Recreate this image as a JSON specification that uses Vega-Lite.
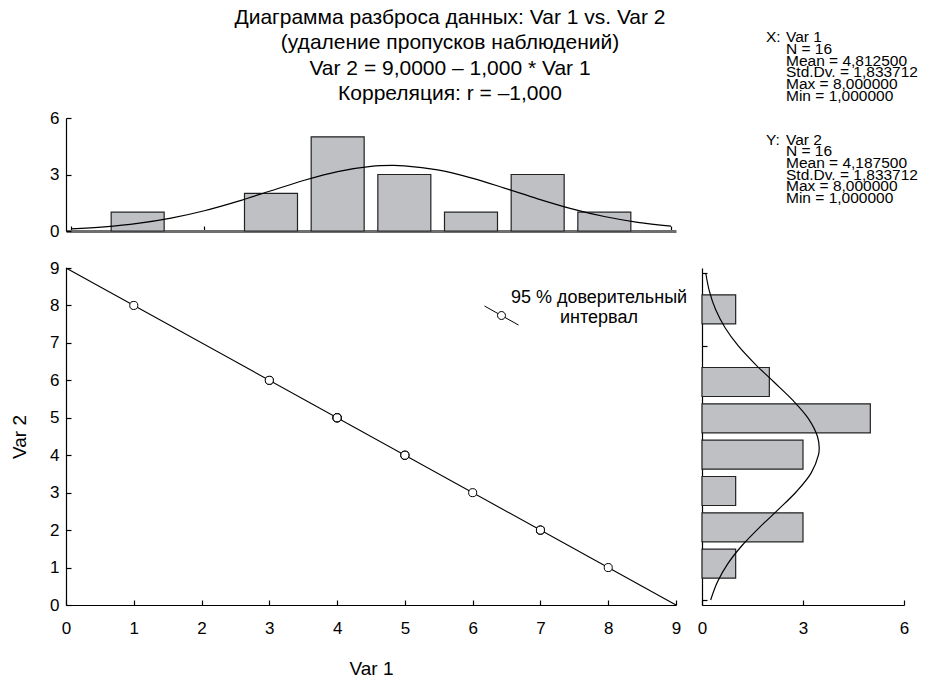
{
  "$schema": "https://vega.github.io/schema/vega-lite/v6.json",
  "padding": {"left": 10, "top": 6, "right": 0, "bottom": 0},
  "background": "white",
  "config": {
    "view": {"stroke": null},
    "font": "Liberation Sans",
    "axis": {
      "domainColor": "black", "tickColor": "black", "labelColor": "black", "titleColor": "black",
      "grid": false, "labelFont": "Liberation Sans", "labelFontSize": 17,
      "titleFont": "Liberation Sans", "titleFontSize": 19, "titleFontWeight": "normal",
      "tickSize": -5, "zindex": 1, "domainWidth": 1.2, "tickWidth": 1.2,
      "labelFlush": false, "labelOverlap": false, "format": "d"
    },
    "axisX": {"labelPadding": 20, "titlePadding": 23},
    "axisY": {"labelPadding": 12, "titlePadding": 20}
  },
  "datasets": {
    "obs": [
      {"v1": 1, "v2": 8},
      {"v1": 3, "v2": 6}, {"v1": 3, "v2": 6},
      {"v1": 4, "v2": 5}, {"v1": 4, "v2": 5}, {"v1": 4, "v2": 5}, {"v1": 4, "v2": 5}, {"v1": 4, "v2": 5},
      {"v1": 5, "v2": 4}, {"v1": 5, "v2": 4}, {"v1": 5, "v2": 4},
      {"v1": 6, "v2": 3},
      {"v1": 7, "v2": 2}, {"v1": 7, "v2": 2}, {"v1": 7, "v2": 2},
      {"v1": 8, "v2": 1}
    ],
    "fit": [
      {"v1": 0, "v2": 9, "s": "95 % доверительный интервал"},
      {"v1": 9, "v2": 0, "s": "95 % доверительный интервал"}
    ],
    "curveX": [
      {"v1": 0, "n": 0.111}, {"v1": 0.5, "n": 0.219}, {"v1": 1, "n": 0.401}, {"v1": 1.5, "n": 0.681},
      {"v1": 2, "n": 1.073}, {"v1": 2.5, "n": 1.571}, {"v1": 3, "n": 2.136}, {"v1": 3.5, "n": 2.694},
      {"v1": 4, "n": 3.155}, {"v1": 4.5, "n": 3.430}, {"v1": 4.8125, "n": 3.481}, {"v1": 5, "n": 3.462},
      {"v1": 5.5, "n": 3.244}, {"v1": 6, "n": 2.822}, {"v1": 6.5, "n": 2.279}, {"v1": 7, "n": 1.709},
      {"v1": 7.5, "n": 1.189}, {"v1": 8, "n": 0.768}, {"v1": 8.5, "n": 0.461}, {"v1": 9, "n": 0.257}
    ],
    "curveY": [
      {"v2": 0, "n": 0.257}, {"v2": 0.5, "n": 0.461}, {"v2": 1, "n": 0.768}, {"v2": 1.5, "n": 1.189},
      {"v2": 2, "n": 1.709}, {"v2": 2.5, "n": 2.279}, {"v2": 3, "n": 2.822}, {"v2": 3.5, "n": 3.244},
      {"v2": 4, "n": 3.462}, {"v2": 4.1875, "n": 3.481}, {"v2": 4.5, "n": 3.430}, {"v2": 5, "n": 3.155},
      {"v2": 5.5, "n": 2.694}, {"v2": 6, "n": 2.136}, {"v2": 6.5, "n": 1.571}, {"v2": 7, "n": 1.073},
      {"v2": 7.5, "n": 0.681}, {"v2": 8, "n": 0.401}, {"v2": 8.5, "n": 0.219}, {"v2": 9, "n": 0.111}
    ],
    "stats": [
      {"axis": "X:", "lines": "Var 1\nN = 16\nMean = 4,812500\nStd.Dv. = 1,833712\nMax = 8,000000\nMin = 1,000000"},
      {"axis": "Y:", "lines": "Var 2\nN = 16\nMean = 4,187500\nStd.Dv. = 1,833712\nMax = 8,000000\nMin = 1,000000"}
    ]
  },
  "columns": 2,
  "bounds": "flush",
  "spacing": {"row": 37, "column": 26},
  "concat": [
    {
      "width": 610, "height": 113,
      "title": {
        "text": ["Диаграмма разброса данных: Var 1 vs. Var 2", "(удаление пропусков наблюдений)", "Var 2 = 9,0000 – 1,000 * Var 1", "Корреляция: r = –1,000"],
        "font": "Liberation Sans", "fontSize": 21, "fontWeight": "normal", "lineHeight": 25.5,
        "anchor": "middle", "frame": "group", "dx": 79, "offset": 5, "color": "black"
      },
      "layer": [
        {
          "data": {"name": "obs"},
          "mark": {"type": "bar", "size": 53, "fill": "#bfc0c4", "stroke": "#222222", "strokeWidth": 1.2},
          "encoding": {
            "x": {"field": "v1", "type": "quantitative", "title": null,
                  "scale": {"domain": [0, 9], "nice": false},
                  "axis": {"values": [0, 1, 2, 3, 4, 5, 6, 7, 8, 9], "labels": false, "domainColor": "#6e6e6e", "domainWidth": 3}},
            "y": {"aggregate": "count", "type": "quantitative", "title": null,
                  "scale": {"domain": [0, 6], "nice": false},
                  "axis": {"values": [0, 3, 6]}}
          }
        },
        {
          "data": {"name": "curveX"},
          "mark": {"type": "line", "color": "black", "strokeWidth": 1.2, "interpolate": "catmull-rom"},
          "encoding": {
            "x": {"field": "v1", "type": "quantitative", "title": null,
                  "axis": {"values": [0, 1, 2, 3, 4, 5, 6, 7, 8, 9], "labels": false, "domainColor": "#6e6e6e", "domainWidth": 3}},
            "y": {"field": "n", "type": "quantitative", "title": null, "axis": {"values": [0, 3, 6]}}
          }
        }
      ]
    },
    {
      "width": 202, "height": 113,
      "data": {"name": "stats"},
      "layer": [
        {
          "mark": {"type": "text", "align": "left", "baseline": "alphabetic", "dx": -37, "dy": -81, "fontSize": 15.5, "font": "Liberation Sans", "color": "black"},
          "encoding": {
            "y": {"field": "axis", "type": "nominal", "scale": {"type": "point", "padding": 0.052}, "axis": null},
            "text": {"field": "axis"}
          }
        },
        {
          "mark": {"type": "text", "align": "left", "baseline": "alphabetic", "dx": -17, "dy": -81, "fontSize": 15.5, "lineHeight": 11.7, "lineBreak": "\n", "font": "Liberation Sans", "color": "black"},
          "encoding": {
            "y": {"field": "axis", "type": "nominal", "scale": {"type": "point", "padding": 0.052}, "axis": null},
            "text": {"field": "lines"}
          }
        }
      ]
    },
    {
      "width": 610, "height": 337,
      "layer": [
        {
          "data": {"name": "fit"},
          "mark": {"type": "line", "strokeWidth": 1.1},
          "encoding": {
            "x": {"field": "v1", "type": "quantitative", "title": "Var 1",
                  "scale": {"domain": [0, 9], "nice": false},
                  "axis": {"values": [0, 1, 2, 3, 4, 5, 6, 7, 8, 9], "tickCount": 10}},
            "y": {"field": "v2", "type": "quantitative", "title": "Var 2",
                  "scale": {"domain": [0, 9], "nice": false},
                  "axis": {"values": [0, 1, 2, 3, 4, 5, 6, 7, 8, 9], "tickCount": 10}},
            "stroke": {"field": "s", "type": "nominal", "scale": {"range": ["black"]},
              "legend": {
                "title": null, "orient": "none", "legendX": 418, "legendY": 162,
                "symbolType": "M-1,0.5L-0.205,0.945M0.205,1.175L1,1.62M0.235,1.06A0.235,0.235,0,1,1,-0.235,1.06A0.235,0.235,0,1,1,0.235,1.06Z",
                "symbolSize": 1156, "symbolStrokeWidth": 1, "symbolFillColor": "white", "symbolStrokeColor": "black",
                "labelExpr": "['95 % доверительный', 'интервал']",
                "labelFont": "Liberation Sans", "labelFontSize": 18, "labelColor": "black", "labelLimit": 0,
                "labelAlign": "center", "labelOffset": 80
              }}
          }
        },
        {
          "data": {"name": "obs"},
          "mark": {"type": "point", "shape": "circle", "filled": true, "fill": "white", "stroke": "black", "strokeWidth": 1, "size": 65, "opacity": 1},
          "encoding": {
            "x": {"field": "v1", "type": "quantitative", "title": "Var 1",
                  "axis": {"values": [0, 1, 2, 3, 4, 5, 6, 7, 8, 9], "tickCount": 10}},
            "y": {"field": "v2", "type": "quantitative", "title": "Var 2",
                  "axis": {"values": [0, 1, 2, 3, 4, 5, 6, 7, 8, 9], "tickCount": 10}}
          }
        }
      ]
    },
    {
      "width": 202, "height": 337,
      "layer": [
        {
          "data": {"name": "obs"},
          "mark": {"type": "bar", "orient": "horizontal", "size": 29, "fill": "#bfc0c4", "stroke": "#222222", "strokeWidth": 1.2},
          "encoding": {
            "y": {"field": "v2", "type": "quantitative", "title": null,
                  "scale": {"domain": [0, 9], "nice": false},
                  "axis": {"values": [0, 1, 2, 3, 4, 5, 6, 7, 8, 9], "labels": false, "tickCount": 10}},
            "x": {"aggregate": "count", "type": "quantitative", "title": null,
                  "scale": {"domain": [0, 6], "nice": false},
                  "axis": {"values": [0, 3, 6]}}
          }
        },
        {
          "data": {"name": "curveY"},
          "mark": {"type": "line", "color": "black", "strokeWidth": 1.2, "interpolate": "catmull-rom"},
          "encoding": {
            "y": {"field": "v2", "type": "quantitative", "title": null,
                  "axis": {"values": [0, 1, 2, 3, 4, 5, 6, 7, 8, 9], "labels": false, "tickCount": 10}},
            "x": {"field": "n", "type": "quantitative", "title": null, "axis": {"values": [0, 3, 6]}},
            "order": {"field": "v2", "type": "quantitative"}
          }
        }
      ]
    }
  ]
}
